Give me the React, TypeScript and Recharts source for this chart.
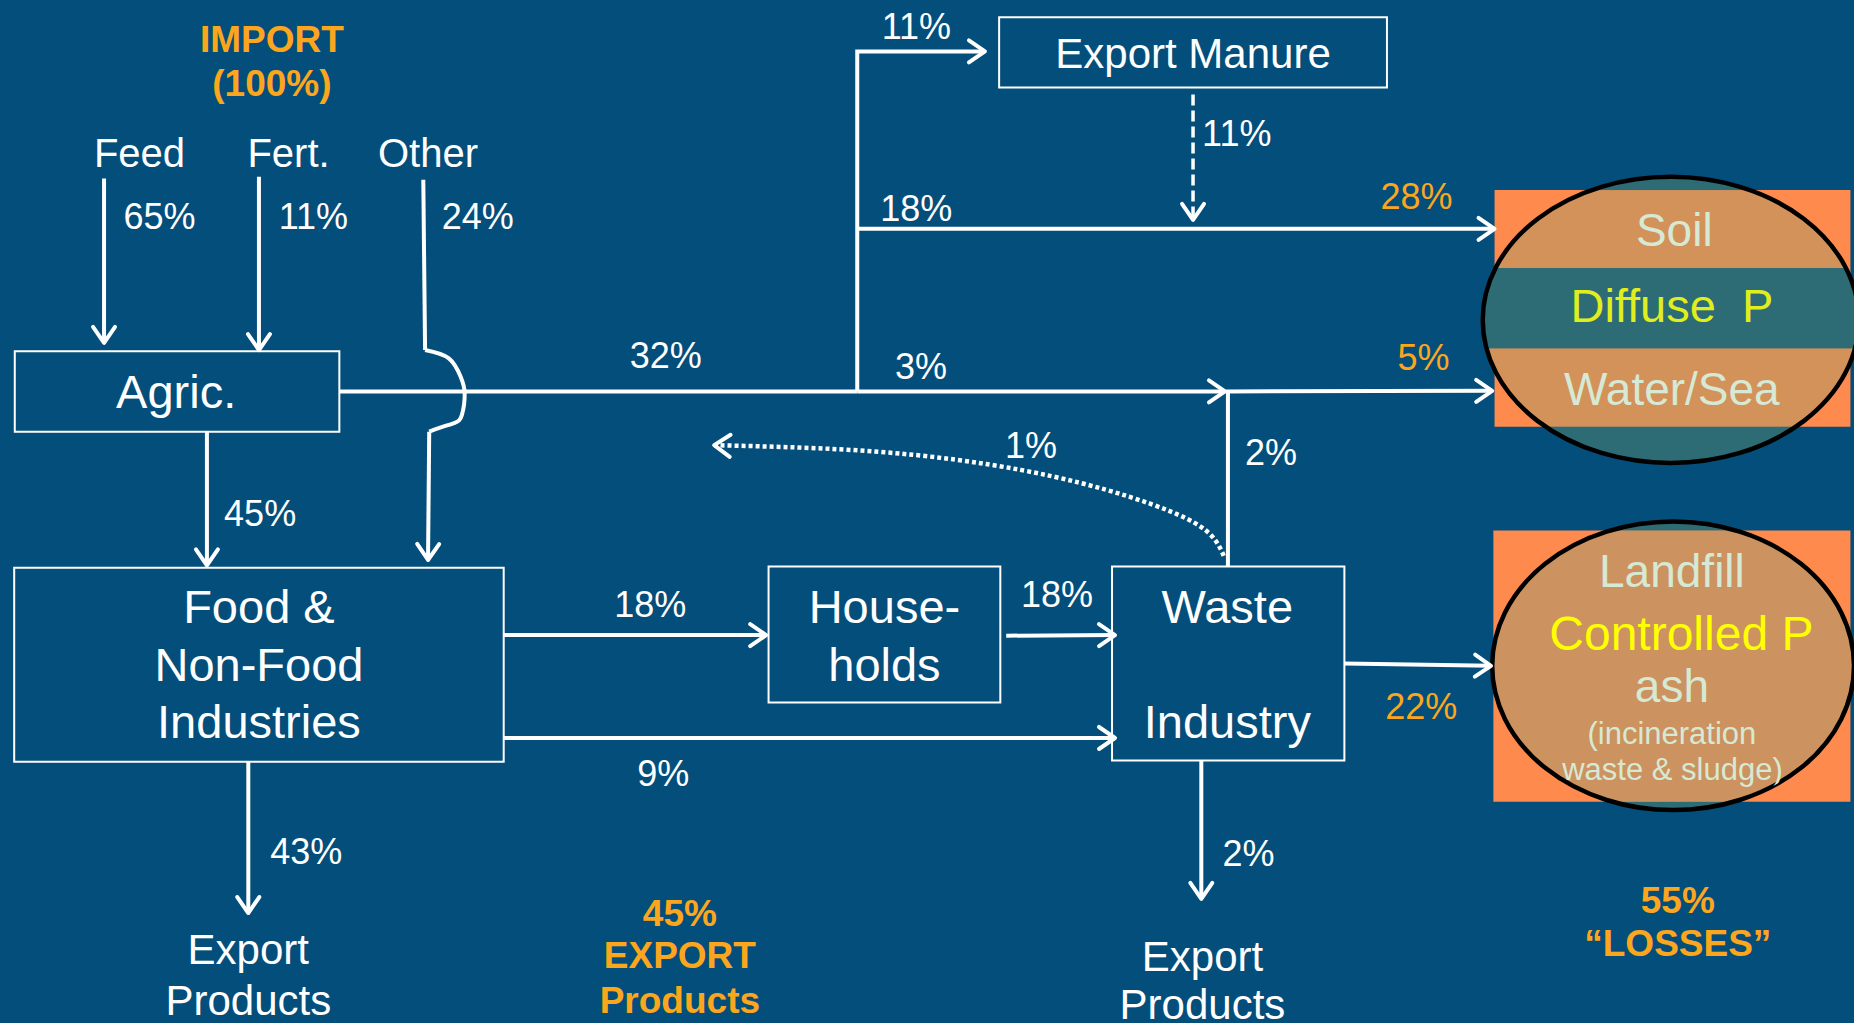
import React from 'react';
import { ComposedChart, XAxis, YAxis, Line, Scatter, ReferenceArea } from 'recharts';

// ---------- canvas / layout space ----------
const W = 1854;
const H = 1023;
const VX = 1568; // layout units (x)
const VY = 865; // layout units (y, top-down)

const BG = '#034E7B';
const ORANGE = '#FBA61D';
const FONT = "'Liberation Sans', Arial, Helvetica, sans-serif";

// ---------- data: phosphorus flows (% of import) ----------
const importFlows = [
  { id: 'feed', source: 'Feed', value: 65 },
  { id: 'fert', source: 'Fert.', value: 11 },
  { id: 'other', source: 'Other', value: 24 },
];
const internalFlows = [
  { id: 'agricToFood', value: 45 },
  { id: 'agricOut', value: 32 },
  { id: 'manureExport', value: 11 },
  { id: 'manureDeposit', value: 11 },
  { id: 'agricToSoil', value: 18 },
  { id: 'agricToWater', value: 3 },
  { id: 'wasteToWater', value: 2 },
  { id: 'recycle', value: 1 },
  { id: 'foodToHouseholds', value: 18 },
  { id: 'householdsToWaste', value: 18 },
  { id: 'foodToWaste', value: 9 },
];
const exitFlows = [
  { id: 'toSoil', value: 28 },
  { id: 'toWater', value: 5 },
  { id: 'toLandfill', value: 22 },
  { id: 'foodExport', value: 43 },
  { id: 'wasteExport', value: 2 },
];
const totals = [
  { id: 'import', value: 100 },
  { id: 'export', value: 45 },
  { id: 'losses', value: 55 },
];

// ---------- layout: where each flow label sits ----------
const flowLabelPos: Record<string, [number, number, string]> = {
  feed: [135, 183, 'pct'],
  fert: [265, 183, 'pct'],
  other: [404, 183, 'pct'],
  agricToFood: [220, 434, 'pct'],
  agricOut: [563, 301, 'pct'],
  manureExport: [775, 22, 'pct'],
  manureDeposit: [1046, 113, 'pct'],
  agricToSoil: [775, 176, 'pct'],
  agricToWater: [779, 310, 'pct'],
  wasteToWater: [1075, 383, 'pct'],
  recycle: [872, 377, 'pct'],
  foodToHouseholds: [550, 511, 'pct'],
  householdsToWaste: [894, 503, 'pct'],
  foodToWaste: [561, 654, 'pct'],
  toSoil: [1198, 166, 'pctO'],
  toWater: [1204, 302, 'pctO'],
  toLandfill: [1202, 597, 'pctO'],
  foodExport: [259, 720, 'pct'],
  wasteExport: [1056, 722, 'pct'],
};
const totalLabelPos: Record<string, [number, number, string]> = {
  import: [230, 71, '(%)'],
  export: [575, 772, '%'],
  losses: [1419, 761, '%'],
};

// ---------- layout: nodes (boxes) ----------
const boxes = [
  { id: 'agric', x1: 12.5, x2: 287, y1: 297, y2: 365 },
  { id: 'manure', x1: 845, x2: 1173, y1: 14.5, y2: 74 },
  { id: 'food', x1: 12, x2: 426, y1: 480, y2: 644 },
  { id: 'households', x1: 650, x2: 846, y1: 479, y2: 594 },
  { id: 'waste', x1: 940.5, x2: 1137, y1: 479, y2: 643 },
];

const nodeText = [
  { x: 230, y: 33, text: 'IMPORT', kind: 'bold' },
  { x: 118, y: 129, text: 'Feed', kind: 'src' },
  { x: 244, y: 129, text: 'Fert.', kind: 'src' },
  { x: 362, y: 129, text: 'Other', kind: 'src' },
  { x: 149, y: 331, text: 'Agric.', kind: 'node' },
  { x: 1009, y: 45, text: 'Export Manure', kind: 'manure' },
  { x: 219, y: 513, text: 'Food &', kind: 'node' },
  { x: 219, y: 562, text: 'Non-Food', kind: 'node' },
  { x: 219, y: 610, text: 'Industries', kind: 'node' },
  { x: 748, y: 513, text: 'House-', kind: 'node' },
  { x: 748, y: 562, text: 'holds', kind: 'node' },
  { x: 1038, y: 513, text: 'Waste', kind: 'node' },
  { x: 1038, y: 610, text: 'Industry', kind: 'node' },
  { x: 210, y: 803, text: 'Export', kind: 'exp' },
  { x: 210, y: 846, text: 'Products', kind: 'exp' },
  { x: 1017, y: 809, text: 'Export', kind: 'exp' },
  { x: 1017, y: 849, text: 'Products', kind: 'exp' },
  { x: 575, y: 808, text: 'EXPORT', kind: 'bold' },
  { x: 575, y: 846, text: 'Products', kind: 'bold' },
  { x: 1419, y: 798, text: '\u201CLOSSES\u201D', kind: 'bold' },
];

// ---------- sinks (orange panels with ellipses) ----------
const sinks = [
  { id: 'diffuse', rect: [1264, 160.7, 1565, 360.8], ellipse: [1254, 149.5, 1572, 391.5], bands: [[160.7, 226.6], [294.6, 360.8]] },
  { id: 'controlled', rect: [1263, 448.5, 1565, 678], ellipse: [1262, 441, 1568, 685], bands: [[448.5, 678]] },
];
const sinkText = [
  { x: 1416, y: 194.5, text: 'Soil', kind: 'sink', clip: 'diffuse' },
  { x: 1414, y: 258.5, text: 'Diffuse  P', kind: 'sinkY', clip: 'diffuse' },
  { x: 1414, y: 329, text: 'Water/Sea', kind: 'sink', clip: 'diffuse' },
  { x: 1414, y: 483, text: 'Landfill', kind: 'sink', clip: 'controlled' },
  { x: 1422, y: 536, text: 'Controlled P', kind: 'sinkY2', clip: 'controlled' },
  { x: 1414, y: 580, text: 'ash', kind: 'sink', clip: 'controlled' },
  { x: 1414, y: 620.5, text: '(incineration', kind: 'sinkS', clip: 'controlled' },
  { x: 1414.5, y: 650.5, text: 'waste & sludge)', kind: 'sinkS', clip: 'controlled' },
];

// ---------- flow paths (layout) ----------
type Path = { id: string; pts: number[][]; arrow?: boolean; curve?: string; dash?: string; width?: number };
const paths: Path[] = [
  { id: 'feed', pts: [[88, 151], [88, 290]], arrow: true },
  { id: 'fert', pts: [[219, 149.5], [219, 296]], arrow: true },
  { id: 'otherTop', pts: [[358, 152], [359.5, 296]] },
  { id: 'otherBump', pts: [[359.5, 296], [379.6, 303], [389.6, 318.6], [393, 332.7], [390.6, 351], [384.6, 357.5], [372.9, 361.4], [363, 365]], curve: 'natural' },
  { id: 'otherDown', pts: [[363, 365], [362, 473.5]], arrow: true },
  { id: 'agricToFood', pts: [[175, 365], [175, 478]], arrow: true },
  { id: 'agricOut', pts: [[287, 331], [725, 331]] },
  { id: 'manureExport', pts: [[725, 331], [725, 43.5], [833, 43.5]], arrow: true },
  { id: 'agricToSoil', pts: [[725, 193.5], [1264, 193.5]], arrow: true },
  { id: 'agricToWater', pts: [[725, 331], [1036, 331]], arrow: true },
  { id: 'wasteToWater', pts: [[1038.5, 479], [1038.5, 331], [1262, 330.5]], arrow: true },
  { id: 'manureDeposit', pts: [[1009, 80], [1009, 186]], arrow: true, dash: '11 5', width: 3.5 },
  { id: 'recycle', pts: [[1035, 470], [1015, 445], [955, 420], [864, 397.5], [743, 382], [604, 376.4]], arrow: true, curve: 'natural', dash: '4 3', width: 4.5 },
  { id: 'foodToHouseholds', pts: [[426, 537], [648, 537]], arrow: true },
  { id: 'householdsToWaste', pts: [[851, 537.5], [943, 537]], arrow: true },
  { id: 'foodToWaste', pts: [[426, 624], [943, 624]], arrow: true },
  { id: 'toLandfill', pts: [[1137, 561], [1261, 563]], arrow: true },
  { id: 'foodExport', pts: [[210, 644], [210, 772]], arrow: true },
  { id: 'wasteExport', pts: [[1016, 643], [1016, 760]], arrow: true },
];

const STYLES: Record<string, { size: number; color: string; weight?: string }> = {
  pct: { size: 36, color: '#FFFFFF' },
  pctO: { size: 36, color: ORANGE },
  node: { size: 47, color: '#FFFFFF' },
  src: { size: 40, color: '#FFFFFF' },
  manure: { size: 42, color: '#FFFFFF' },
  exp: { size: 42, color: '#FFFFFF' },
  bold: { size: 37, color: ORANGE, weight: 'bold' },
  sink: { size: 46, color: '#D6E9D4' },
  sinkY: { size: 47, color: '#E0EE1E' },
  sinkY2: { size: 48, color: '#FFFF00' },
  sinkS: { size: 31, color: '#D6E9D4' },
};

// build label table from value arrays + layout
const allFlowValues = [...importFlows, ...internalFlows, ...exitFlows];
const flowLabels = allFlowValues
  .filter((f) => flowLabelPos[f.id])
  .map((f) => ({ x: flowLabelPos[f.id][0], y: flowLabelPos[f.id][1], text: `${f.value}%`, kind: flowLabelPos[f.id][2] }));
const totalLabels = totals.map((t) => {
  const [x, y, fmt] = totalLabelPos[t.id];
  return { x, y, text: fmt === '(%)' ? `(${t.value}%)` : `${t.value}%`, kind: 'bold' };
});
const labelData = [...nodeText, ...flowLabels, ...totalLabels];

const arrowData = paths
  .filter((p) => p.arrow)
  .map((p) => {
    const a = p.pts[p.pts.length - 2];
    const b = p.pts[p.pts.length - 1];
    return { x: b[0], y: b[1], angle: (Math.atan2(b[1] - a[1], b[0] - a[0]) * 180) / Math.PI };
  });

const TextShape = (p: any) => {
  const d = p.payload;
  const s = STYLES[d.kind];
  return (
    <text
      x={p.cx}
      y={p.cy}
      textAnchor="middle"
      dominantBaseline="central"
      fontFamily={FONT}
      fontSize={s.size}
      fontWeight={s.weight || 'normal'}
      fill={s.color}
      style={{ whiteSpace: 'pre' }}
      clipPath={d.clip ? `url(#clip-${d.clip})` : undefined}
    >
      {d.text}
    </text>
  );
};

const ArrowShape = (p: any) => (
  <g transform={`translate(${p.cx},${p.cy}) rotate(${p.payload.angle})`}>
    <polyline points="-16,-11 0,0 -16,11" fill="none" stroke="#FFFFFF" strokeWidth={4} strokeLinecap="round" strokeLinejoin="round" />
  </g>
);

const norm = (p: any) => {
  const x = p.width < 0 ? p.x + p.width : p.x;
  const y = p.height < 0 ? p.y + p.height : p.y;
  return { x, y, w: Math.abs(p.width), h: Math.abs(p.height) };
};

const ellipseFill = (id: string, fill: string) => (p: any) => {
  const r = norm(p);
  const cx = r.x + r.w / 2;
  const cy = r.y + r.h / 2;
  return (
    <g>
      <defs>
        <clipPath id={`clip-${id}`} clipPathUnits="userSpaceOnUse">
          <ellipse cx={cx} cy={cy} rx={r.w / 2} ry={r.h / 2} />
        </clipPath>
      </defs>
      <ellipse cx={cx} cy={cy} rx={r.w / 2} ry={r.h / 2} fill={fill} />
    </g>
  );
};
const ellipseStroke = (p: any) => {
  const r = norm(p);
  return <ellipse cx={r.x + r.w / 2} cy={r.y + r.h / 2} rx={r.w / 2} ry={r.h / 2} fill="none" stroke="#000000" strokeWidth={4.5} />;
};
const bandShape = (id: string, fill: string) => (p: any) => {
  const r = norm(p);
  return <rect x={r.x} y={r.y} width={r.w} height={r.h} fill={fill} clipPath={`url(#clip-${id})`} />;
};

export default function App() {
  return (
    <div style={{ position: 'fixed', left: 0, top: 0, width: W, height: H, background: BG, overflow: 'hidden' }}>
      <ComposedChart width={W} height={H} margin={{ top: 0, right: 0, bottom: 0, left: 0 }}>
        <XAxis type="number" dataKey="x" domain={[0, VX]} hide allowDataOverflow />
        <YAxis type="number" dataKey="y" domain={[0, VY]} reversed hide width={0} allowDataOverflow />

        {sinks.map((s) => (
          <ReferenceArea key={`r-${s.id}`} x1={s.rect[0]} x2={s.rect[2]} y1={s.rect[1]} y2={s.rect[3]} fill="#FE8A4E" fillOpacity={1} stroke="none" ifOverflow="visible" />
        ))}
        {sinks.map((s) => (
          <ReferenceArea
            key={`e-${s.id}`}
            x1={s.ellipse[0]}
            x2={s.ellipse[2]}
            y1={s.ellipse[1]}
            y2={s.ellipse[3]}
            ifOverflow="visible"
            shape={ellipseFill(s.id, '#2D6B75')}
          />
        ))}
        {sinks.map((s) =>
          s.bands.map((b, i) => (
            <ReferenceArea
              key={`b-${s.id}-${i}`}
              x1={s.rect[0] - 20}
              x2={s.rect[2] + 20}
              y1={b[0]}
              y2={b[1]}
              ifOverflow="visible"
              shape={bandShape(s.id, s.id === 'diffuse' ? '#D3925A' : '#CC925F')}
            />
          ))
        )}
        {sinks.map((s) => (
          <ReferenceArea key={`s-${s.id}`} x1={s.ellipse[0]} x2={s.ellipse[2]} y1={s.ellipse[1]} y2={s.ellipse[3]} ifOverflow="visible" shape={ellipseStroke} />
        ))}
        {boxes.map((b) => (
          <ReferenceArea key={b.id} x1={b.x1} x2={b.x2} y1={b.y1} y2={b.y2} fill="none" fillOpacity={0} stroke="#FFFFFF" strokeWidth={2} ifOverflow="visible" />
        ))}

        {paths.map((p) => (
          <Line
            key={p.id}
            data={p.pts.map(([x, y]) => ({ x, y }))}
            dataKey="y"
            type={(p.curve as any) || 'linear'}
            stroke="#FFFFFF"
            strokeWidth={p.width || 4}
            strokeDasharray={p.dash}
            dot={false}
            activeDot={false}
            isAnimationActive={false}
            legendType="none"
          />
        ))}

        <Scatter data={arrowData} dataKey="y" shape={ArrowShape} isAnimationActive={false} legendType="none" />
        <Scatter data={sinkText} dataKey="y" shape={TextShape} isAnimationActive={false} legendType="none" />
        <Scatter data={labelData} dataKey="y" shape={TextShape} isAnimationActive={false} legendType="none" />
      </ComposedChart>
    </div>
  );
}
